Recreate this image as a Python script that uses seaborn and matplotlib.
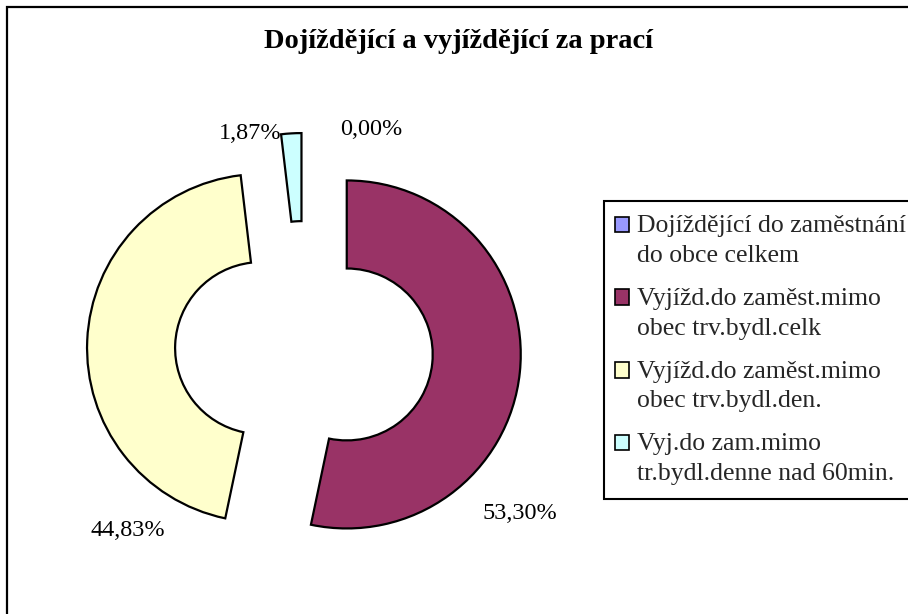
import matplotlib
matplotlib.use("Agg")
import matplotlib.pyplot as plt
import seaborn as sns
from matplotlib.patches import Patch, Rectangle
from matplotlib.legend_handler import HandlerPatch

# ---- data ----
categories = [
    "Dojíždějící do zaměstnání\ndo obce celkem",
    "Vyjížd.do zaměst.mimo\nobec trv.bydl.celk",
    "Vyjížd.do zaměst.mimo\nobec trv.bydl.den.",
    "Vyj.do zam.mimo\ntr.bydl.denne nad 60min.",
]
values = [0.00, 53.30, 44.83, 1.87]
pct_labels = ["0,00%", "53,30%", "44,83%", "1,87%"]
title = "Dojíždějící a vyjíždějící za prací"

# ---- style ----
colors = ["#9999FF", "#993366", "#FFFFCC", "#CCFFFF"]
label_xy = [(0.385, 1.27), (1.241, -0.937), (-1.011, -1.040), (-0.31, 1.247)]

sns.set_theme(style="white")
plt.rcParams["font.family"] = ["Liberation Serif", "DejaVu Serif"]

W, H = 908, 614
fig = plt.figure(figsize=(W / 100, H / 100), dpi=100)
fig.patch.set_facecolor("white")

R_px, cx_px, cy_px = 174, 304, 350
ax = fig.add_axes([0, 0, 1, 1])

wedges, _ = ax.pie(
    values,
    startangle=90,
    counterclock=False,
    colors=colors,
    explode=[0.247] * len(values),
    radius=1,
    wedgeprops=dict(width=0.506, edgecolor="black", linewidth=1.6),
)
wedges[0].set_linewidth(0)
ax.set_xlim(-cx_px / R_px, (W - cx_px) / R_px)
ax.set_ylim(-(H - cy_px) / R_px, cy_px / R_px)
ax.axis("off")

for (x, y), lab in zip(label_xy, pct_labels):
    ax.text(x, y, lab, ha="center", va="center", fontsize=17.5, color="black")

fig.text(459 / W, 1 - 41 / H, title, ha="center", va="center",
         fontsize=20.5, fontweight="bold", color="black")


def top_square(legend, orig_handle, xdescent, ydescent, width, height, fontsize):
    return Rectangle((-xdescent - 2, -ydescent + 0.62 * fontsize), width, height)


handles = [Patch(facecolor=c, edgecolor="black", linewidth=1.2) for c in colors]
leg = fig.legend(
    handles, categories,
    loc="upper left", bbox_to_anchor=(604 / W, 1 - 201 / H),
    bbox_transform=fig.transFigure, borderaxespad=0,
    frameon=True, fancybox=False, edgecolor="black", framealpha=1,
    fontsize=18.5, handlelength=0.55, handleheight=0.55, handletextpad=0.2,
    labelspacing=0.82, borderpad=0.55,
    handler_map={Patch: HandlerPatch(patch_func=top_square)},
)
leg.get_frame().set_linewidth(1.5)
for t in leg.get_texts():
    t.set_linespacing(1.45)

fig.patches.append(Rectangle((7 / W, -0.5), 2, 1.5 - 7 / H, transform=fig.transFigure,
                             fill=False, edgecolor="black", linewidth=1.6))

fig.savefig("out.png", dpi=100)
